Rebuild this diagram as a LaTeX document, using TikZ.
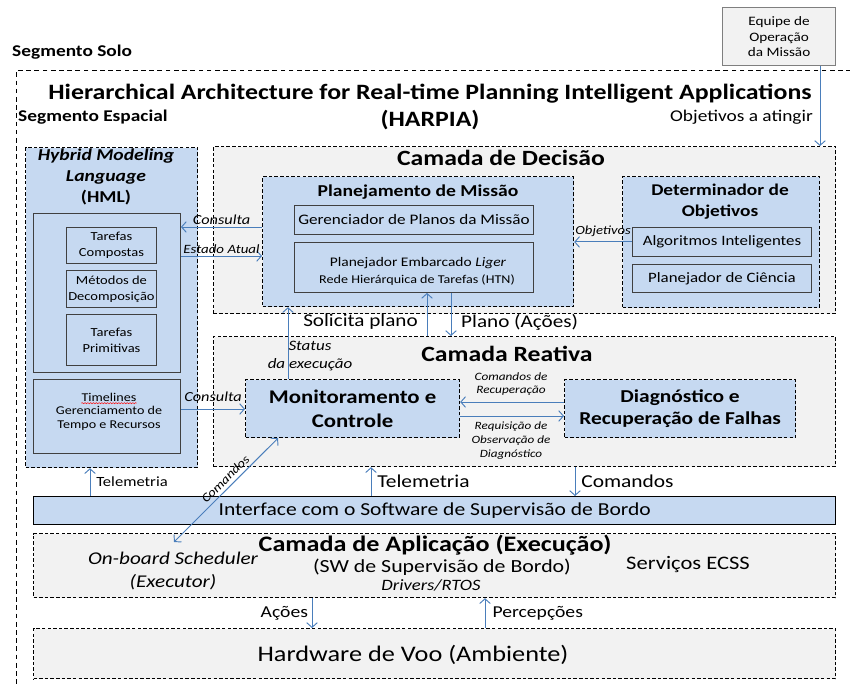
\documentclass[tikz,border=0pt]{standalone}
\usepackage{fontspec}
\setmainfont{Carlito}[FakeStretch=1.18]
\usetikzlibrary{arrows.meta,decorations.pathmorphing}

\definecolor{boxblue}{HTML}{C6D9F1}
\definecolor{layergray}{HTML}{F2F2F2}
\definecolor{flowblue}{HTML}{4A7EBB}
\definecolor{teamgray}{HTML}{7F7F7F}
\definecolor{edgegray}{HTML}{404040}

\newcommand{\pxl}{0.03cm}
\newcommand{\fsz}[2]{\fontsize{#1}{#2}\selectfont}

\tikzset{
  area/.style={draw, line width=1pt, dash pattern=on 3pt off 1.8pt, fill=layergray,
    anchor=north west, inner sep=0pt},
  bluearea/.style={area, fill=boxblue},
  subbox/.style={draw=edgegray, line width=0.8pt, fill=boxblue, anchor=north west,
    inner sep=0pt, align=center},
  flow/.style={draw=flowblue, line width=0.8pt, -{Straight Barb[length=4pt,width=9pt]}},
  twoway/.style={draw=flowblue, line width=0.8pt,
    {Straight Barb[length=4pt,width=9pt]}-{Straight Barb[length=4pt,width=9pt]}},
  txt/.style={inner sep=0pt, align=center},
}

\begin{document}
\begin{tikzpicture}[x=0.03cm, y=-0.03cm]
    \useasboundingbox (0,0) rectangle (850,684);
    \clip (0,0) rectangle (850,684);
    % ground and space segments
    \node[area, fill=none, line width=0.8pt, dash pattern=on 4pt off 3pt,
      minimum width=860*\pxl, minimum height=640*\pxl] (solo) at (16,70) {};
    \node[txt, anchor=west, font=\fsz{14}{16}\bfseries] (solotxt) at (12,52) {Segmento Solo};
    \node[txt, anchor=west, font=\fsz{14}{16}\bfseries] (espacotxt) at (18,117) {Segmento Espacial};
    \node[txt, font=\fsz{18.7}{23}\bfseries] (titulo) at (430,107)
      {Hierarchical Architecture for Real-time Planning Intelligent Applications\\(HARPIA)};
    \node[draw=teamgray, line width=1pt, fill=layergray, anchor=north west, inner sep=0pt,
      minimum width=113*\pxl, minimum height=58*\pxl, align=center, font=\fsz{11}{13.6}]
      (equipe) at (722,7) {Equipe de\\Operação\\da Missão};
    \node[txt, anchor=east, font=\fsz{14}{16}] (objtxt) at (813,117) {Objetivos a atingir};

    % HML
    \node[bluearea, minimum width=172*\pxl, minimum height=320*\pxl] (hml) at (25,147) {};
    \node[txt, font=\fsz{14.2}{18}\bfseries] (hmltxt) at (106,177)
      {\itshape Hybrid Modeling\\\itshape Language\\(HML)};
    \node[subbox, minimum width=147*\pxl, minimum height=159*\pxl] (hmlin) at (33,213) {};
    \node[subbox, minimum width=90*\pxl, minimum height=36*\pxl, font=\fsz{10.5}{13.6}]
      (tcomp) at (66,227) {Tarefas\\Compostas};
    \node[subbox, minimum width=90*\pxl, minimum height=37*\pxl, font=\fsz{10.5}{13.6}]
      (metodos) at (66,270) {Métodos de\\Decomposição};
    \node[subbox, minimum width=90*\pxl, minimum height=51*\pxl, font=\fsz{10.5}{13.6}]
      (tprim) at (66,314) {Tarefas\\Primitivas};
    \node[subbox, minimum width=147*\pxl, minimum height=74*\pxl] (timel) at (33,379) {};
    \node[txt, font=\fsz{10.2}{12}] (timeltxt) at (109,397) {Timelines};
    \node[txt, font=\fsz{10.2}{12}] (gertxt) at (109,418) {Gerenciamento de\\Tempo e Recursos};
    \draw[red, decorate, decoration={snake, amplitude=0.5pt, segment length=2.4pt}]
      ([yshift=-1.5pt]timeltxt.south west) -- ([yshift=-1.5pt]timeltxt.south east);

    % decision layer
    \node[area, minimum width=622*\pxl, minimum height=167*\pxl] (decisao) at (213,146) {};
    \node[txt, font=\fsz{18.6}{20}\bfseries] (decisaotxt) at (501,158) {Camada de Decisão};
    \node[bluearea, minimum width=311*\pxl, minimum height=130*\pxl] (planej) at (262,176) {};
    \node[txt, font=\fsz{14.2}{16}\bfseries] (planejtxt) at (418,192) {Planejamento de Missão};
    \node[subbox, minimum width=239*\pxl, minimum height=29*\pxl, font=\fsz{12.4}{14}]
      (gerenc) at (294,205) {Gerenciador de Planos da Missão};
    \node[subbox, minimum width=239*\pxl, minimum height=50*\pxl] (liger) at (294,242) {};
    \node[txt, font=\fsz{11.2}{14}] (ligertxt) at (418,263) {Planejador Embarcado \textit{Liger}};
    \node[txt, font=\fsz{10.2}{12}] (htntxt) at (417,280) {Rede Hierárquica de Tarefas (HTN)};
    \node[bluearea, minimum width=197*\pxl, minimum height=131*\pxl] (determ) at (622,176) {};
    \node[txt, font=\fsz{14}{18}\bfseries] (determtxt) at (720,202) {Determinador de\\Objetivos};
    \node[subbox, minimum width=179*\pxl, minimum height=29*\pxl, font=\fsz{12.2}{14}]
      (algor) at (632,227) {Algoritmos Inteligentes};
    \node[subbox, minimum width=179*\pxl, minimum height=28*\pxl, font=\fsz{12.2}{14}]
      (ciencia) at (632,264) {Planejador de Ciência};

    % reactive layer
    \node[area, minimum width=622*\pxl, minimum height=130*\pxl] (reativa) at (213,336) {};
    \node[txt, font=\fsz{18.6}{20}\bfseries] (reativatxt) at (507,354) {Camada Reativa};
    \node[bluearea, minimum width=214*\pxl, minimum height=58*\pxl, align=center,
      font=\fsz{16.5}{20}\bfseries] (monit) at (245,379) {Monitoramento e\\Controle};
    \node[bluearea, minimum width=231*\pxl, minimum height=58*\pxl, align=center,
      font=\fsz{15.5}{19}\bfseries] (diagn) at (564,379) {Diagnóstico e\\Recuperação de Falhas};

    % interface, application and hardware
    \node[draw, line width=1.2pt, fill=boxblue, anchor=north west, inner sep=0pt,
      minimum width=802*\pxl, minimum height=28*\pxl, font=\fsz{15.6}{17}]
      (iface) at (33,496) {Interface com o Software de Supervisão de Bordo};
    \node[area, minimum width=802*\pxl, minimum height=64*\pxl] (aplic) at (33,533) {};
    \node[txt, font=\fsz{18.9}{20}\bfseries] (aplictxt) at (435,545) {Camada de Aplicação (Execução)};
    \node[txt, font=\fsz{15.8}{17}] (swtxt) at (442,567) {(SW de Supervisão de Bordo)};
    \node[txt, font=\fsz{13.5}{15}\itshape] (rtostxt) at (431,585) {Drivers/RTOS};
    \node[txt, font=\fsz{15.3}{19.5}\itshape] (sched) at (173,571) {On-board Scheduler\\(Executor)};
    \node[txt, font=\fsz{16.3}{18}] (ecss) at (688,565) {Serviços ECSS};
    \node[area, minimum width=802*\pxl, minimum height=50*\pxl] (hardw) at (33,628) {};
    \node[txt, font=\fsz{19}{21}] (hardwtxt) at (413,655) {Hardware de Voo (Ambiente)};
    \coordinate (schedtip) at (174,542);

    % connectors
    \draw[flow] (equipe.south -| 820,0) -- (decisao.north -| 820,0);
    \draw[flow] (planej.west |- 0,227) -- node[txt, above=2pt, font=\fsz{11.8}{13}\itshape] {Consulta}
      (hmlin.east |- 0,227);
    \draw[flow] (hmlin.east |- 0,256) -- node[txt, above=2pt, font=\fsz{10.8}{12}\itshape] {Estado Atual}
      (planej.west |- 0,256);
    \draw[flow] (algor.west) -- node[txt, above=4pt, font=\fsz{10.6}{12}\itshape] {Objetivos}
      (planej.east |- algor.west);
    \draw[flow] (monit.north -| 288,0) -- (planej.south -| 288,0);
    \node[txt, font=\fsz{12.3}{16}\itshape] (statustxt) at (310,356) {Status\\da execução};
    \draw[flow] (reativa.north -| 427,0) -- (liger.south -| 427,0);
    \node[txt, anchor=east, font=\fsz{15.3}{17}] (solicitatxt) at (418,322) {Solicita plano};
    \draw[flow] (liger.south -| 451,0) -- (reativa.north -| 451,0);
    \node[txt, anchor=west, font=\fsz{15.3}{17}] (planotxt) at (461,322) {Plano (Ações)};
    \draw[flow] (timel.east |- 0,409) -- node[txt, above=6pt, font=\fsz{11.8}{13}\itshape] {Consulta}
      (monit.west |- 0,409);
    \draw[flow] (diagn.west |- 0,402) -- (monit.east |- 0,402);
    \node[txt, font=\fsz{9.6}{11}\itshape] (recuptxt) at (511,384) {Comandos de\\Recuperação};
    \draw[flow] (monit.east |- 0,416) -- (diagn.west |- 0,416);
    \node[txt, font=\fsz{9.5}{12}\itshape] (requistxt) at (511,441)
      {Requisição de\\Observação de\\Diagnóstico};
    \draw[flow] (iface.north -| 90,0) -- node[txt, right=5pt, font=\fsz{12}{13}] {Telemetria}
      (hml.south -| 90,0);
    \draw[flow] (iface.north -| 371,0) -- node[txt, right=5pt, font=\fsz{15.5}{17}] {Telemetria}
      (reativa.south -| 371,0);
    \draw[flow] (reativa.south -| 575,0) -- node[txt, right=5pt, font=\fsz{15.5}{17}] {Comandos}
      (iface.north -| 575,0);
    \draw[twoway] (schedtip) -- node[txt, sloped, above=3pt, pos=0.55, font=\fsz{10.5}{12}\itshape] {Comandos}
      (monit.south -| 278,0);
    \draw[flow] (aplic.south -| 312,0) -- node[txt, left=3pt, font=\fsz{14.2}{16}] {Ações}
      (hardw.north -| 312,0);
    \draw[flow] (hardw.north -| 485,0) -- node[txt, right=6pt, font=\fsz{14.2}{16}] {Percepções}
      (aplic.south -| 485,0);
\end{tikzpicture}
\end{document}
